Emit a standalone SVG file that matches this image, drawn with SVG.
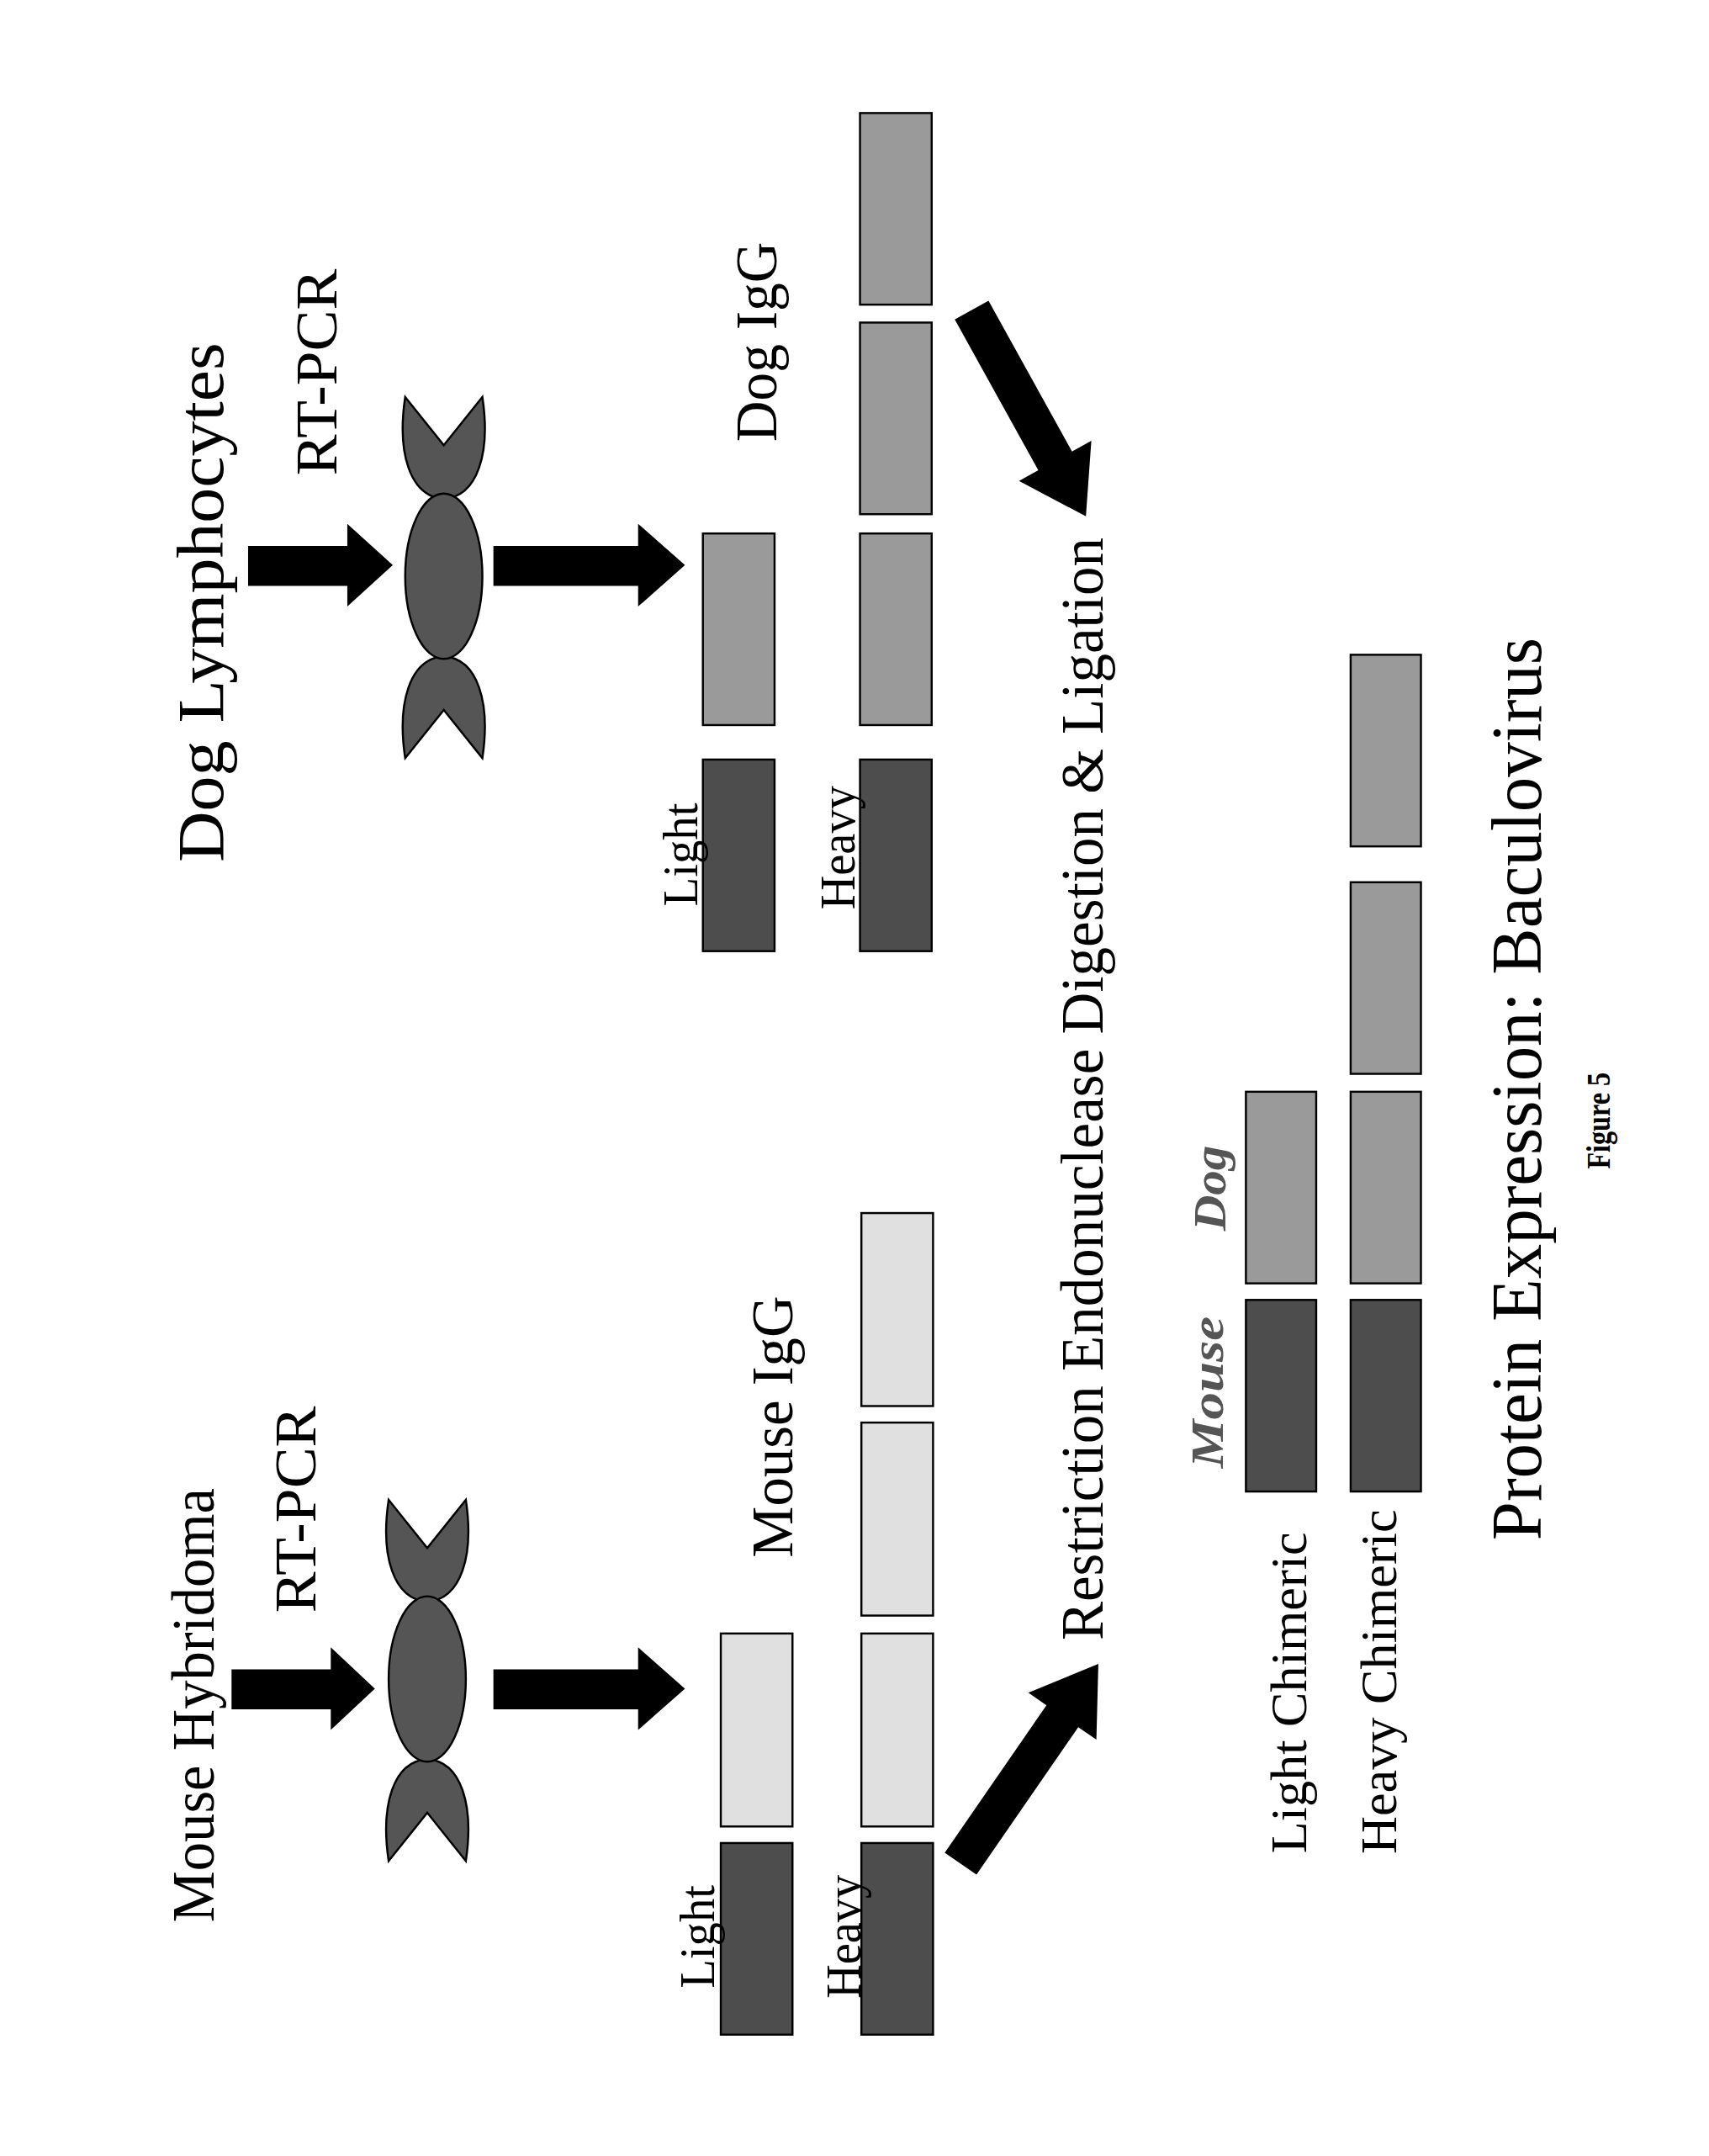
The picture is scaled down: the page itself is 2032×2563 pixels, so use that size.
<svg xmlns="http://www.w3.org/2000/svg" width="2032" height="2563" viewBox="0 0 2032 2563">
<style>
text{font-family:"Liberation Serif","Times New Roman",serif;fill:#000}
.dk{fill:#4d4d4d;stroke:#000;stroke-width:1.5}
.md{fill:#9a9a9a;stroke:#000;stroke-width:1.5}
.lt{fill:#e0e0e0;stroke:#000;stroke-width:1.5}
.mol{fill:#555;stroke:#000;stroke-width:1.5}
.arr{fill:#000}
</style>
<defs>
<g id="mol">
<path class="mol" d="M-28,-130 L0,-95 L28,-130 C34,-90 25,-58 0,-56 C-25,-58 -34,-90 -28,-130 Z"/>
<path class="mol" d="M-28,132 L0,97 L28,132 C34,92 25,60 0,58 C-25,60 -34,92 -28,132 Z"/>
<ellipse class="mol" cx="0" cy="0" rx="28" ry="60"/>
</g>
</defs>
<rect width="2032" height="2563" fill="#fff"/>
<g transform="scale(1.6387)">
<g id="connectors">
<polygon class="arr" points="168,1211 240,1211 240,1195 272,1225 240,1255 240,1240 168,1240"/>
<polygon class="arr" points="358,1211 463,1211 463,1195 497,1225 463,1255 463,1240 358,1240"/>
<polygon class="arr" points="180,396 252,396 252,380 285,410 252,440 252,425 180,425"/>
<polygon class="arr" points="358,396 463,396 463,380 497,410 463,440 463,425 358,425"/>
<polygon class="arr" transform="translate(697,1352) rotate(-55.4)" points="0,-14 130,-14 130,-30 176,0 130,30 130,14 0,14"/>
<polygon class="arr" transform="translate(705,225) rotate(61)" points="0,-14 125,-14 125,-30 171,0 125,30 125,14 0,14"/>
</g>
<g id="mouse-hybridoma"><text transform="translate(155,1237) rotate(-90)" text-anchor="middle" font-size="44" textLength="315" lengthAdjust="spacingAndGlyphs">Mouse Hybridoma</text></g>
<g id="mouse-rtpcr"><text transform="translate(229,1095) rotate(-90)" text-anchor="middle" font-size="42" textLength="150" lengthAdjust="spacingAndGlyphs">RT-PCR</text></g>
<g id="mouse-mol"><use href="#mol" transform="translate(310,1218)"/></g>
<g id="dog-lymphocytes"><text transform="translate(162,437) rotate(-90)" text-anchor="middle" font-size="48" textLength="377" lengthAdjust="spacingAndGlyphs">Dog Lymphocytes</text></g>
<g id="dog-rtpcr"><text transform="translate(244,270) rotate(-90)" text-anchor="middle" font-size="42" textLength="150" lengthAdjust="spacingAndGlyphs">RT-PCR</text></g>
<g id="dog-mol"><use href="#mol" transform="translate(322,418)"/></g>
<g id="mouse-light">
<rect class="dk" x="523" y="1337" width="52" height="139"/>
<rect class="lt" x="523" y="1185" width="52" height="140"/>
<text transform="translate(518,1405) rotate(-90)" text-anchor="middle" font-size="36" textLength="75" lengthAdjust="spacingAndGlyphs">Light</text>
</g>
<g id="mouse-heavy">
<rect class="dk" x="625" y="1337" width="52" height="139"/>
<rect class="lt" x="625" y="1185" width="52" height="140"/>
<rect class="lt" x="625" y="1032" width="52" height="140"/>
<rect class="lt" x="625" y="880" width="52" height="140"/>
<text transform="translate(624,1405) rotate(-90)" text-anchor="middle" font-size="36" textLength="90" lengthAdjust="spacingAndGlyphs">Heavy</text>
</g>
<g id="mouse-igg"><text transform="translate(575,1035) rotate(-90)" text-anchor="middle" font-size="42" textLength="190" lengthAdjust="spacingAndGlyphs">Mouse IgG</text></g>
<g id="dog-light">
<rect class="dk" x="510" y="551" width="52" height="139"/>
<rect class="md" x="510" y="387" width="52" height="139"/>
<text transform="translate(506,620) rotate(-90)" text-anchor="middle" font-size="36" textLength="75" lengthAdjust="spacingAndGlyphs">Light</text>
</g>
<g id="dog-heavy">
<rect class="dk" x="624" y="551" width="52" height="139"/>
<rect class="md" x="624" y="387" width="52" height="139"/>
<rect class="md" x="624" y="234" width="52" height="139"/>
<rect class="md" x="624" y="82" width="52" height="139"/>
<text transform="translate(620,615) rotate(-90)" text-anchor="middle" font-size="36" textLength="90" lengthAdjust="spacingAndGlyphs">Heavy</text>
</g>
<g id="dog-igg"><text transform="translate(563,248) rotate(-90)" text-anchor="middle" font-size="42" textLength="145" lengthAdjust="spacingAndGlyphs">Dog IgG</text></g>
<g id="restriction"><text transform="translate(800,790) rotate(-90)" text-anchor="middle" font-size="44" textLength="800" lengthAdjust="spacingAndGlyphs">Restriction Endonuclease Digestion &amp; Ligation</text></g>
<g id="legend">
<text transform="translate(887,1010) rotate(-90)" text-anchor="middle" font-size="34" font-weight="bold" font-style="italic" fill="#555" style="fill:#555" textLength="110" lengthAdjust="spacingAndGlyphs">Mouse</text>
<text transform="translate(889,862) rotate(-90)" text-anchor="middle" font-size="34" font-weight="bold" font-style="italic" style="fill:#555" textLength="62" lengthAdjust="spacingAndGlyphs">Dog</text>
</g>
<g id="light-chimeric">
<rect class="dk" x="904" y="943" width="51" height="139"/>
<rect class="md" x="904" y="792" width="51" height="139"/>
<text transform="translate(948,1228) rotate(-90)" text-anchor="middle" font-size="38" textLength="233" lengthAdjust="spacingAndGlyphs">Light Chimeric</text>
</g>
<g id="heavy-chimeric">
<rect class="dk" x="980" y="943" width="51" height="139"/>
<rect class="md" x="980" y="792" width="51" height="139"/>
<rect class="md" x="980" y="640" width="51" height="139"/>
<rect class="md" x="980" y="475" width="51" height="139"/>
<text transform="translate(1013,1220) rotate(-90)" text-anchor="middle" font-size="38" textLength="250" lengthAdjust="spacingAndGlyphs">Heavy Chimeric</text>
</g>
<g id="protein-expression"><text transform="translate(1118,790) rotate(-90)" text-anchor="middle" font-size="52" textLength="655" lengthAdjust="spacingAndGlyphs">Protein Expression:  Baculovirus</text></g>
<g id="figure-label"><text transform="translate(1168,813) rotate(-90)" text-anchor="middle" font-size="24" font-weight="bold" textLength="70" lengthAdjust="spacingAndGlyphs">Figure 5</text></g>
</g>
</svg>
